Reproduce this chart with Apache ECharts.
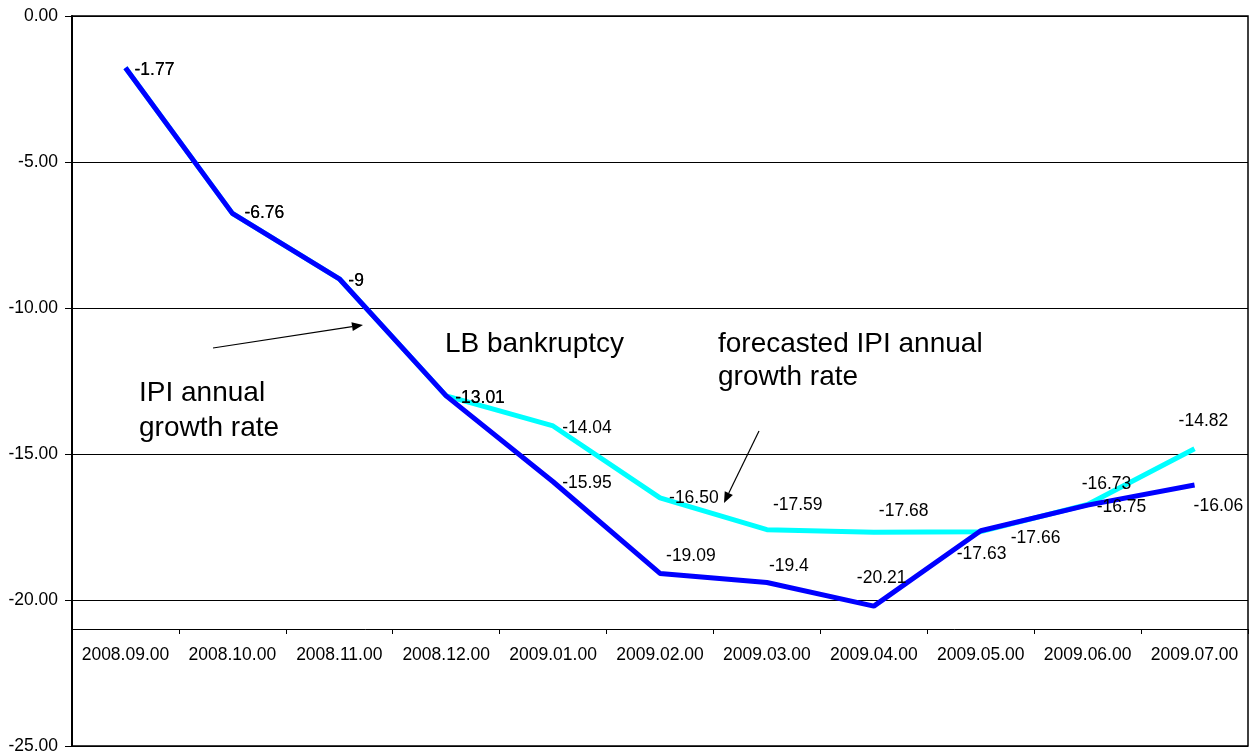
<!DOCTYPE html>
<html>
<head>
<meta charset="utf-8">
<script src="https://cdn.jsdelivr.net/npm/echarts@6/dist/echarts.min.js"></script>
<style>
html,body{margin:0;padding:0;background:#fff;}
#chart{width:1254px;height:756px;}
</style>
</head>
<body>
<div id="chart"></div>
<script>
const categories = ['2008.09.00','2008.10.00','2008.11.00','2008.12.00','2009.01.00','2009.02.00','2009.03.00','2009.04.00','2009.05.00','2009.06.00','2009.07.00'];
const ipiActual = [-1.77, -6.76, -9, -13.01, -15.95, -19.09, -19.4, -20.21, -17.63, -16.75, -16.06];
const ipiForecast = [-1.77, -6.76, -9, -13.01, -14.04, -16.50, -17.59, -17.68, -17.66, -16.73, -14.82];
const yTicks = [-25, -20, -15, -10, -5, 0];
const xAxisCrossing = -21;   // category axis crosses the value axis here
const yMin = -25, yMax = 0;

// label offsets (pixels, relative to each point)
const actualLabelOffsets = [[9,2],[12,0],[9,2],[9,2],[9,1],[6,-17],[2,-16],[-17,-28],[-24,23],[9,2],[-1,21]];
const forecastLabelOffsets = [[9,2],[12,0],[9,2],[9,2],[9,2],[9,0],[6,-24],[5,-21],[30,6],[-6,-20],[-16,-28]];

const FONT = "Arial, 'Liberation Sans', sans-serif";
const LABEL_SIZE = 17.5;
const GRID = { left: 72, right: 6, top: 16, bottom: 10 };
const plotHeight = 756 - GRID.top - GRID.bottom;
const xAxisOffset = -Math.round((xAxisCrossing - yMin) / (yMax - yMin) * plotHeight);

function buildData(values, offsets, fmt) {
  return values.map((v, i) => ({
    value: v,
    label: { offset: offsets[i], formatter: fmt(v) }
  }));
}

const chart = echarts.init(document.getElementById('chart'), null, {renderer: 'canvas'});

function arrow(x1, y1, x2, y2) {
  const ang = Math.atan2(y2 - y1, x2 - x1);
  const L = 11, W = 4.5;
  const bx = x2 - L * Math.cos(ang), by = y2 - L * Math.sin(ang);
  const px = -Math.sin(ang) * W, py = Math.cos(ang) * W;
  return [
    { type: 'line', shape: { x1: x1, y1: y1, x2: bx, y2: by }, style: { stroke: '#000', lineWidth: 1.2 }, z: 100 },
    { type: 'polygon', shape: { points: [[x2, y2], [bx + px, by + py], [bx - px, by - py]] }, style: { fill: '#000' }, z: 100 }
  ];
}

function txt(x, y, s) {
  return { type: 'text', x: x, y: y, z: 100, style: { text: s, font: "28px " + FONT, fill: '#000', verticalAlign: 'middle', align: 'left' } };
}

const option = {
  animation: false,
  backgroundColor: '#fff',
  grid: Object.assign({ show: true, borderColor: '#000', borderWidth: 1.5, containLabel: false, outerBoundsMode: 'none' }, GRID),
  xAxis: {
    type: 'category',
    data: categories,
    boundaryGap: true,
    position: 'bottom',
    offset: xAxisOffset,
    axisLine: { show: true, onZero: false, lineStyle: { color: '#000', width: 1 } },
    axisTick: { show: true, length: 5, alignWithLabel: false, lineStyle: { color: '#000' } },
    axisLabel: { color: '#000', fontSize: LABEL_SIZE, fontFamily: FONT, margin: 17, interval: 0 },
    splitLine: { show: false }
  },
  yAxis: {
    type: 'value',
    min: yMin, max: yMax, interval: 5,
    axisLine: { show: true, onZero: false, lineStyle: { color: '#000', width: 2 } },
    axisTick: { show: true, length: 7, lineStyle: { color: '#000' } },
    axisLabel: { color: '#000', fontSize: LABEL_SIZE, fontFamily: FONT, margin: 14, formatter: v => (yTicks.includes(v) ? v.toFixed(2) : '') },
    splitLine: { show: true, lineStyle: { color: '#000', width: 1 } }
  },
  series: [
    {
      name: 'forecasted IPI annual growth rate',
      type: 'line',
      data: buildData(ipiForecast, forecastLabelOffsets, v => (Number.isInteger(v) ? String(v) : v.toFixed(2))),
      symbol: 'circle', symbolSize: 0.1, showSymbol: true,
      itemStyle: { color: '#00FFFF' },
      lineStyle: { color: '#00FFFF', width: 5 },
      label: { show: true, position: 'right', distance: 0, color: '#000', fontSize: LABEL_SIZE, fontFamily: FONT },
      emphasis: { disabled: true },
      z: 2
    },
    {
      name: 'IPI annual growth rate',
      type: 'line',
      data: buildData(ipiActual, actualLabelOffsets, v => String(v)),
      symbol: 'circle', symbolSize: 0.1, showSymbol: true,
      itemStyle: { color: '#0000FF' },
      lineStyle: { color: '#0000FF', width: 5 },
      label: { show: true, position: 'right', distance: 0, color: '#000', fontSize: LABEL_SIZE, fontFamily: FONT },
      emphasis: { disabled: true },
      z: 3
    }
  ],
  graphic: [].concat(
    arrow(213, 348, 363, 325),
    arrow(759, 431, 724, 503),
    [
      txt(445, 344, 'LB bankruptcy'),
      txt(139, 393, 'IPI annual'),
      txt(139, 428, 'growth rate'),
      txt(718, 344, 'forecasted IPI annual'),
      txt(718, 377, 'growth rate')
    ]
  )
};
chart.setOption(option);
</script>
</body>
</html>
